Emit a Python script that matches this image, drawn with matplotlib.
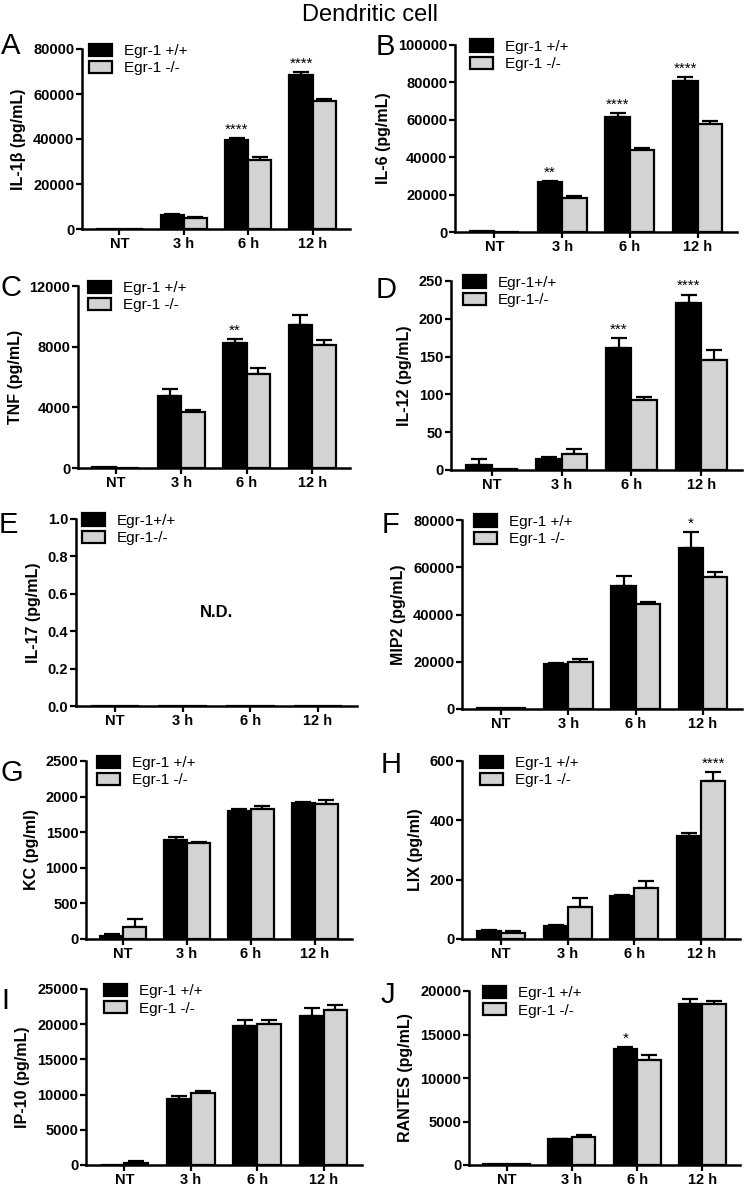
import numpy as np
import matplotlib
matplotlib.use('Agg')
import matplotlib.pyplot as plt

plt.rcParams['font.family'] = ['Liberation Sans', 'DejaVu Sans']

groups = ['NT', '3 h', '6 h', '12 h']

# values (mean, upper SEM)
il1b_wt = [0, 6300, 39600, 68500]
il1b_wt_err = [0, 300, 700, 1100]
il1b_ko = [0, 5000, 30800, 57100]
il1b_ko_err = [0, 300, 1100, 800]
il1b_stars = ['', '', '****', '****']

il6_wt = [500, 26700, 61400, 81000]
il6_wt_err = [0, 700, 2000, 2000]
il6_ko = [0, 18000, 44000, 57700]
il6_ko_err = [0, 1000, 1000, 1800]
il6_stars = ['', '**', '****', '****']

tnf_wt = [40, 4740, 8260, 9400]
tnf_wt_err = [0, 460, 220, 680]
tnf_ko = [30, 3700, 6230, 8100]
tnf_ko_err = [0, 150, 370, 330]
tnf_stars = ['', '', '**', '']

il12_wt = [7, 15, 162, 221]
il12_wt_err = [7.5, 2.6, 13, 11]
il12_ko = [1, 20.7, 92, 145]
il12_ko_err = [0, 6.6, 5, 13.7]
il12_stars = ['', '', '***', '****']

mip2_wt = [300, 19000, 52200, 68000]
mip2_wt_err = [0, 400, 4000, 6800]
mip2_ko = [300, 19700, 44300, 55900]
mip2_ko_err = [0, 1300, 800, 2000]
mip2_stars = ['', '', '', '*']

kc_wt = [47, 1386, 1798, 1905]
kc_wt_err = [20, 47, 28, 23]
kc_ko = [173, 1344, 1826, 1896]
kc_ko_err = [108, 23, 42, 56]
kc_stars = ['', '', '', '']

lix_wt = [27, 45, 145, 347]
lix_wt_err = [4.5, 2, 3, 11]
lix_ko = [19, 107, 173, 534]
lix_ko_err = [7, 31, 22, 30]
lix_stars = ['', '', '', '****']

ip10_wt = [0, 9360, 19760, 21160]
ip10_wt_err = [0, 400, 900, 1100]
ip10_ko = [330, 10250, 20040, 21960]
ip10_ko_err = [300, 200, 600, 700]
ip10_stars = ['', '', '', '']

rantes_wt = [80, 2940, 13360, 18500]
rantes_wt_err = [0, 100, 200, 550]
rantes_ko = [80, 3170, 12100, 18500]
rantes_ko_err = [0, 270, 500, 300]
rantes_stars = ['', '', '*', '']

lab_sp = ['Egr-1 +/+', 'Egr-1 -/-']
lab_ns = ['Egr-1+/+', 'Egr-1-/-']

W, H = 750, 1186
fig = plt.figure(figsize=(W / 100, H / 100), dpi=100)

# letter, ylabel, wt, wt err, ko, ko err, stars, yticks, legend labels,
# pixel box (left, right, top, bottom), legend x, letter pos
panels = [
    ('A', 'IL-1β (pg/mL)', il1b_wt, il1b_wt_err, il1b_ko, il1b_ko_err, il1b_stars,
     np.arange(0, 80001, 20000), lab_sp, (82, 350, 49, 229), 0.026, (1, 54)),
    ('B', 'IL-6 (pg/mL)', il6_wt, il6_wt_err, il6_ko, il6_ko_err, il6_stars,
     np.arange(0, 100001, 20000), lab_sp, (455, 737, 45, 232), 0.053, (376, 55)),
    ('C', 'TNF (pg/mL)', tnf_wt, tnf_wt_err, tnf_ko, tnf_ko_err, tnf_stars,
     np.arange(0, 12001, 4000), lab_sp, (78, 350, 286, 468), 0.037, (1, 296)),
    ('D', 'IL-12 (pg/mL)', il12_wt, il12_wt_err, il12_ko, il12_ko_err, il12_stars,
     np.arange(0, 251, 50), lab_ns, (451, 742, 281, 470), 0.04, (376, 298)),
    ('E', 'IL-17 (pg/mL)', None, None, None, None, None,
     np.round(np.arange(0, 1.01, 0.2), 1), lab_ns, (76, 357, 519, 706), 0.02, (-1, 533)),
    ('F', 'MIP2 (pg/mL)', mip2_wt, mip2_wt_err, mip2_ko, mip2_ko_err, mip2_stars,
     np.arange(0, 80001, 20000), lab_sp, (462, 742, 520, 709), 0.043, (382, 533)),
    ('G', 'KC (pg/ml)', kc_wt, kc_wt_err, kc_ko, kc_ko_err, kc_stars,
     np.arange(0, 2501, 500), lab_sp, (86, 352, 761, 939), 0.042, (1, 781)),
    ('H', 'LIX (pg/ml)', lix_wt, lix_wt_err, lix_ko, lix_ko_err, lix_stars,
     np.arange(0, 601, 200), lab_sp, (462, 740, 761, 939), 0.064, (381, 773)),
    ('I', 'IP-10 (pg/mL)', ip10_wt, ip10_wt_err, ip10_ko, ip10_ko_err, ip10_stars,
     np.arange(0, 25001, 5000), lab_sp, (86, 362, 989, 1165), 0.065, (1, 1009)),
    ('J', 'RANTES (pg/mL)', rantes_wt, rantes_wt_err, rantes_ko, rantes_ko_err, rantes_stars,
     np.arange(0, 20001, 5000), lab_sp, (469, 740, 991, 1165), 0.052, (381, 1003)),
]

x = np.arange(len(groups))
bw = 0.36
grey = '#d3d3d3'

for (letter, ylab, wt, wt_e, ko, ko_e, stars, yt, labs, box, lx, lpos) in panels:
    l, r, t, b = box
    ax = fig.add_axes([l / W, 1 - b / H, (r - l) / W, (b - t) / H])
    ymax = yt[-1]
    if wt is not None:
        wt_e = np.array(wt_e)
        ko_e = np.array(ko_e)
        ax.bar(x - bw / 2, wt, bw, color='black', edgecolor='black', linewidth=1.6,
               label=labs[0], zorder=2)
        ax.bar(x + bw / 2, ko, bw, color=grey, edgecolor='black', linewidth=1.6,
               label=labs[1], zorder=2)
        m = wt_e > 0
        ax.errorbar((x - bw / 2)[m], np.array(wt)[m], yerr=[np.zeros(m.sum()), wt_e[m]],
                    fmt='none', ecolor='black', elinewidth=1.6, capsize=6, capthick=1.6, zorder=1)
        m = ko_e > 0
        ax.errorbar((x + bw / 2)[m], np.array(ko)[m], yerr=[np.zeros(m.sum()), ko_e[m]],
                    fmt='none', ecolor='black', elinewidth=1.6, capsize=6, capthick=1.6, zorder=1)
        for i, s in enumerate(stars):
            if not s:
                continue
            top_wt = wt[i] + wt_e[i]
            top_ko = ko[i] + ko_e[i]
            if top_wt >= top_ko:
                sx, sy = x[i] - bw / 2, top_wt
            else:
                sx, sy = x[i] + bw / 2, top_ko
            ax.annotate(s, (sx, sy), xytext=(0, 1), textcoords='offset points',
                        ha='center', va='bottom', fontsize=11)
    else:
        ax.bar(x - bw / 2, [0] * 4, bw, color='black', edgecolor='black', linewidth=1.6,
               label=labs[0])
        ax.bar(x + bw / 2, [0] * 4, bw, color=grey, edgecolor='black', linewidth=1.6,
               label=labs[1])
        ax.text(0.5, 0.5, 'N.D.', transform=ax.transAxes, ha='center', va='center',
                fontsize=12, fontweight='bold')

    ax.set_xlim(-0.58, 3.58)
    ax.set_ylim(0, ymax)
    ax.set_yticks(yt)
    if letter == 'E':
        ax.set_yticklabels(['%.1f' % v for v in yt])
    ax.set_xticks(x)
    ax.set_xticklabels(groups)
    for sp in ['top', 'right']:
        ax.spines[sp].set_visible(False)
    for sp in ['left', 'bottom']:
        ax.spines[sp].set_linewidth(1.8)
    ax.tick_params(direction='out', length=4, width=1.6, labelsize=10.5, pad=1.5)
    for lbl in ax.get_xticklabels() + ax.get_yticklabels():
        lbl.set_fontweight('bold')
    ax.set_ylabel(ylab, fontsize=11.5, fontweight='bold', labelpad=5)

    ax.legend(loc='upper left', bbox_to_anchor=(lx, 1.03), frameon=False, fontsize=11,
              handlelength=1.5, handleheight=0.85, handletextpad=0.8, labelspacing=0.2,
              borderpad=0, borderaxespad=0)

    fig.text(lpos[0] / W, 1 - lpos[1] / H, letter, fontsize=21, ha='left', va='baseline')

fig.text(370 / W, 1 - 21 / H, 'Dendritic cell', fontsize=17, ha='center', va='baseline')

fig.savefig('out.png', dpi=100)
